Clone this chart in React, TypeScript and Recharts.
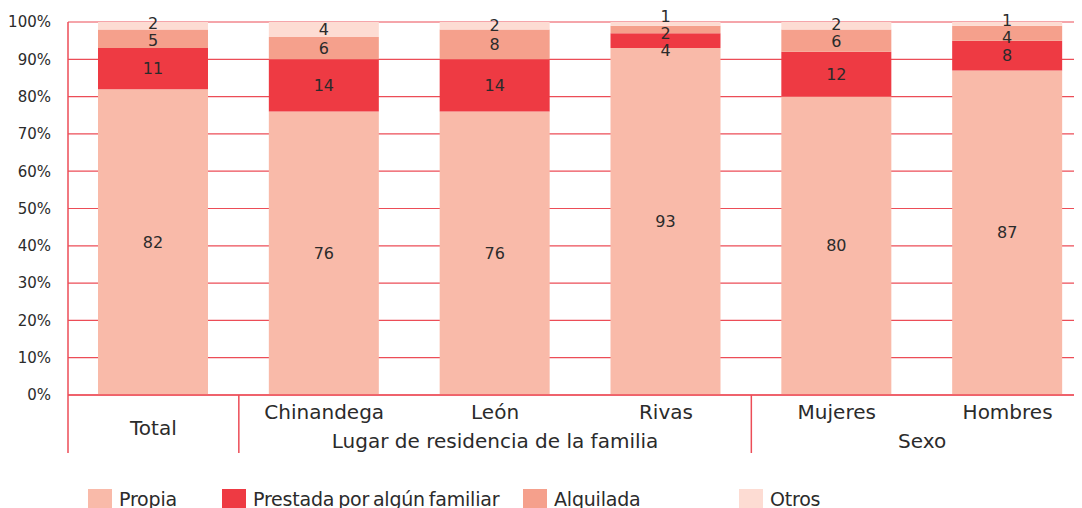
import React from 'react';
import { BarChart, Bar, XAxis, YAxis, CartesianGrid, LabelList } from 'recharts';

const categories = ['Total', 'Chinandega', 'León', 'Rivas', 'Mujeres', 'Hombres'];
const groupLabels = ['Lugar de residencia de la familia', 'Sexo'];
const seriesNames = ['Propia', 'Prestada por algún familiar', 'Alquilada', 'Otros'];
const propia = [82, 76, 76, 93, 80, 87];
const prestada = [11, 14, 14, 4, 12, 8];
const alquilada = [5, 6, 8, 2, 6, 4];
const otros = [2, 4, 2, 1, 2, 1];
const yTicks = [0, 10, 20, 30, 40, 50, 60, 70, 80, 90, 100];

const COLORS = ['#f9baa9', '#ee3a43', '#f5a08c', '#fddcd3'];
const KEYS = ['propia', 'prestada', 'alquilada', 'otros'];
const LINE = '#ec4d57';
const FONT = '"DejaVu Sans", sans-serif';
const TEXT = '#2b2b2b';

const CHART_W = 1090;
const CHART_H = 500;
const MARGIN = { top: 14, right: 5, left: 0, bottom: 53 };
const Y_AXIS_W = 60;
const X_AXIS_H = 60;
const PLOT_W = CHART_W - MARGIN.left - MARGIN.right - Y_AXIS_W;
const PLOT_H = CHART_H - MARGIN.top - MARGIN.bottom - X_AXIS_H;
const BAND = PLOT_W / categories.length;
const LABEL_GAP_PX = 17;
const LABEL_MAX = 101.5; // highest label centre, in %

const seriesValues = [propia, prestada, alquilada, otros];

const data = categories.map((name, i) => ({
  name,
  propia: propia[i],
  prestada: prestada[i],
  alquilada: alquilada[i],
  otros: otros[i],
}));

// push apart stacked labels that would overlap (in value units)
const labelShifts: number[][] = seriesValues.map(() => categories.map(() => 0));
categories.forEach((_, c) => {
  const gap = LABEL_GAP_PX / (PLOT_H / 100);
  let base = 0;
  const centers = seriesValues.map((vals) => {
    const mid = base + vals[c] / 2;
    base += vals[c];
    return mid;
  });
  const pos = [...centers];
  for (let iter = 0; iter < 40; iter++) {
    for (let s = 1; s < pos.length; s++) {
      if (pos[s] - pos[s - 1] < gap) {
        const mid = (pos[s] + pos[s - 1]) / 2;
        pos[s - 1] = mid - gap / 2;
        pos[s] = mid + gap / 2;
      }
    }
    const last = pos.length - 1;
    if (pos[last] > LABEL_MAX) pos[last] = LABEL_MAX;
  }
  pos.forEach((p, s) => {
    labelShifts[s][c] = p - centers[s];
  });
});

const makeLabel = (s: number) => (props: any) => {
  const { x, y, width, height, value, index } = props;
  if (!value) return null;
  const h = Math.abs(height);
  const ppu = h / value;
  const cy = Math.min(y, y + height) + h / 2 - labelShifts[s][index] * ppu;
  return (
    <text x={x + width / 2} y={cy} textAnchor="middle" dominantBaseline="central" fill={TEXT} fontSize={16} fontFamily={FONT}>
      {value}
    </text>
  );
};

const XTick = (props: any) => {
  const { x, y, payload, index } = props;
  const name = payload.value;
  const single = index === 0;
  return (
    <g>
      <text x={x} y={y + (single ? 40 : 24)} textAnchor="middle" fill={TEXT} fontSize={20} fontFamily={FONT}>
        {name}
      </text>
      {(index === 0 || index === 1 || index === 4) && (
        <line x1={x - BAND / 2} x2={x - BAND / 2} y1={y} y2={y + 58} stroke={LINE} strokeWidth={1.5} />
      )}
      {index === 2 && (
        <text x={x} y={y + 53} textAnchor="middle" fill={TEXT} fontSize={20} fontFamily={FONT}>
          {groupLabels[0]}
        </text>
      )}
      {index === 4 && (
        <text x={x + BAND / 2} y={y + 53} textAnchor="middle" fill={TEXT} fontSize={20} fontFamily={FONT}>
          {groupLabels[1]}
        </text>
      )}
    </g>
  );
};

const LEGEND_LEFT = [80, 214, 515, 731];

export default function App() {
  return (
    <div style={{ position: 'relative', width: 1074, height: 500, overflow: 'hidden', fontFamily: FONT }}>
      <BarChart width={CHART_W} height={CHART_H} data={data} margin={MARGIN}>
        <CartesianGrid horizontal vertical={false} stroke={LINE} strokeWidth={1.2} />
        <XAxis
          dataKey="name"
          height={X_AXIS_H}
          tick={<XTick />}
          tickLine={false}
          tickSize={0}
          tickMargin={0}
          interval={0}
          axisLine={{ stroke: LINE, strokeWidth: 1.5 }}
        />
        <YAxis
          width={Y_AXIS_W}
          domain={[0, 100]}
          ticks={yTicks}
          tickFormatter={(v) => `${v}%`}
          tickLine={false}
          tickMargin={11}
          axisLine={{ stroke: LINE, strokeWidth: 1.5 }}
          tick={{ fill: TEXT, fontSize: 15, fontFamily: FONT }}
        />
        {KEYS.map((k, s) => (
          <Bar key={k} dataKey={k} stackId="a" fill={COLORS[s]} barSize={110} isAnimationActive={false}>
            <LabelList dataKey={k} content={makeLabel(s)} />
          </Bar>
        ))}
      </BarChart>
      {seriesNames.map((name, s) => (
        <div
          key={name}
          style={{ position: 'absolute', left: LEGEND_LEFT[s], top: 481, display: 'flex', alignItems: 'center', whiteSpace: 'nowrap' }}
        >
          <span style={{ display: 'inline-block', width: 24, height: 20, background: COLORS[s], marginRight: 7 }} />
          <span style={{ fontSize: 19, color: TEXT, lineHeight: '20px', wordSpacing: -2, letterSpacing: -0.2 }}>{name}</span>
        </div>
      ))}
    </div>
  );
}
